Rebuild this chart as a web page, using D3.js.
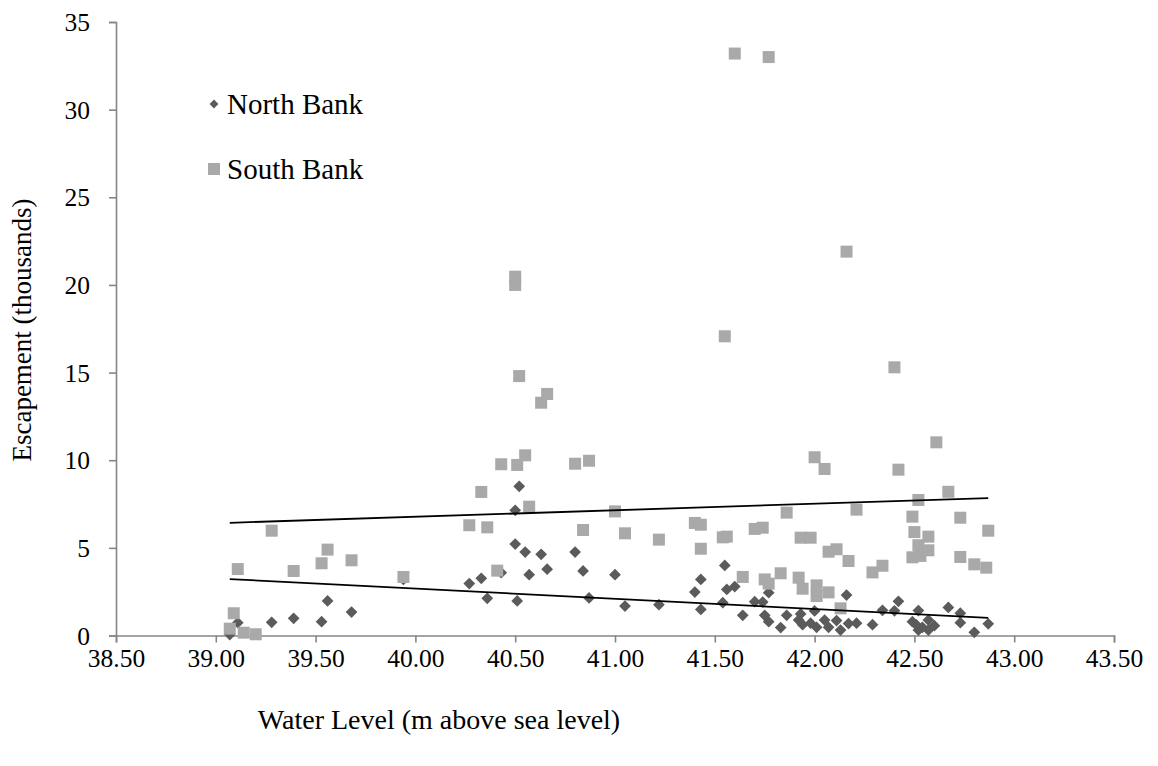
<!DOCTYPE html>
<html>
<head>
<meta charset="utf-8">
<script src="https://cdn.jsdelivr.net/npm/d3@7"></script>
<style>
  html, body { margin: 0; padding: 0; background: #fff; }
  svg { display: block; font-family: "Liberation Serif", "Times New Roman", serif; }
</style>
</head>
<body>
<svg id="chart" width="1158" height="766"></svg>
<script>
// Escapement vs. water level, north and south bank counts
const northX = [39.07, 39.11, 39.28, 39.39, 39.53, 39.56, 39.68, 39.94, 40.27, 40.33,
  40.36, 40.43, 40.50, 40.50, 40.51, 40.52, 40.55, 40.57, 40.63, 40.66,
  40.80, 40.84, 40.87, 41.00, 41.05, 41.22, 41.40, 41.43, 41.43, 41.54,
  41.55, 41.56, 41.60, 41.64, 41.70, 41.74, 41.75, 41.77, 41.77, 41.83,
  41.86, 41.92, 41.93, 41.94, 41.98, 42.00, 42.01, 42.05, 42.07, 42.11,
  42.13, 42.16, 42.17, 42.21, 42.29, 42.34, 42.40, 42.42, 42.49, 42.51,
  42.52, 42.52, 42.54, 42.57, 42.57, 42.60, 42.67, 42.73, 42.73, 42.80, 42.87];
const northY = [0.05, 0.73, 0.75, 0.98, 0.79, 1.97, 1.34, 3.20, 2.96, 3.26,
  2.12, 3.58, 7.14, 5.22, 1.97, 8.51, 4.76, 3.47, 4.63, 3.78,
  4.76, 3.68, 2.14, 3.47, 1.68, 1.76, 2.48, 3.20, 1.49, 1.87,
  4.00, 2.63, 2.79, 1.15, 1.93, 1.91, 1.15, 2.44, 0.79, 0.45,
  1.15, 0.88, 1.23, 0.62, 0.70, 1.40, 0.47, 0.88, 0.47, 0.85,
  0.31, 2.31, 0.68, 0.70, 0.62, 1.44, 1.41, 1.95, 0.79, 0.60,
  1.42, 0.31, 0.47, 0.88, 0.31, 0.56, 1.60, 1.27, 0.73, 0.18, 0.67];

const southX = [39.07, 39.09, 39.11, 39.14, 39.20, 39.28, 39.39, 39.53, 39.56, 39.68,
  39.94, 40.27, 40.33, 40.36, 40.41, 40.43, 40.50, 40.50, 40.51, 40.52,
  40.55, 40.57, 40.63, 40.66, 40.80, 40.84, 40.87, 41.00, 41.05, 41.22,
  41.40, 41.43, 41.43, 41.55, 41.54, 41.56, 41.60, 41.64, 41.70, 41.74,
  41.75, 41.77, 41.77, 41.83, 41.86, 41.92, 41.93, 41.94, 41.98, 42.00,
  42.01, 42.01, 42.05, 42.07, 42.07, 42.11, 42.13, 42.16, 42.17, 42.21,
  42.29, 42.34, 42.40, 42.42, 42.49, 42.49, 42.50, 42.52, 42.52, 42.53,
  42.57, 42.57, 42.61, 42.67, 42.73, 42.73, 42.80, 42.86, 42.87];
const southY = [0.39, 1.27, 3.79, 0.16, 0.07, 5.98, 3.68, 4.12, 4.90, 4.29,
  3.34, 6.29, 8.19, 6.17, 3.70, 9.77, 20.47, 20.00, 9.73, 14.80,
  10.28, 7.35, 13.28, 13.78, 9.80, 6.02, 9.97, 7.08, 5.83, 5.47,
  6.42, 6.32, 4.95, 17.07, 5.60, 5.64, 33.20, 3.34, 6.08, 6.15,
  3.20, 2.96, 33.00, 3.55, 7.01, 3.30, 5.58, 2.67, 5.58, 10.17,
  2.86, 2.25, 9.50, 4.78, 2.46, 4.92, 1.55, 21.90, 4.25, 7.18,
  3.60, 3.98, 15.30, 9.46, 6.78, 4.46, 5.90, 7.73, 5.15, 4.54,
  5.64, 4.86, 11.02, 8.20, 6.72, 4.48, 4.06, 3.87, 5.98];

// Linear trend lines (end points over the observed range)
const trendX = [39.07, 42.87];
const northTrend = [3.22, 1.00];
const southTrend = [6.43, 7.84];

const xTicks = [38.5, 39.0, 39.5, 40.0, 40.5, 41.0, 41.5, 42.0, 42.5, 43.0, 43.5];
const yTicks = [0, 5, 10, 15, 20, 25, 30, 35];
const seriesNames = ["North Bank", "South Bank"];

const svg = d3.select("#chart");
const plot = { left: 116, right: 1114, top: 22, bottom: 635.5 };
const axisColor = "#868686";
const northColor = "#5b5b5b";
const southColor = "#a9a9a9";

const x = d3.scaleLinear().domain([38.5, 43.5]).range([plot.left, plot.right]);
const y = d3.scaleLinear().domain([0, 35]).range([plot.bottom, plot.top]);

// Axes
const xAxis = svg.append("g")
  .attr("transform", `translate(0,${plot.bottom})`)
  .call(d3.axisBottom(x).tickValues(xTicks).tickFormat(d3.format(".2f")).tickSize(7).tickPadding(6));
const yAxis = svg.append("g")
  .attr("transform", `translate(${plot.left},0)`)
  .call(d3.axisLeft(y).tickValues(yTicks).tickSize(7).tickPadding(19));

[xAxis, yAxis].forEach(g => {
  g.select(".domain").attr("stroke", axisColor).attr("stroke-width", 1.6);
  g.selectAll(".tick line").attr("stroke", axisColor).attr("stroke-width", 1.6);
  g.selectAll(".tick text")
    .attr("fill", "#000")
    .style("font-family", "'Liberation Serif', 'Times New Roman', serif")
    .style("font-size", "25.5px");
});
yAxis.selectAll(".tick text").attr("dy", "0.34em");

// Axis titles
svg.append("text")
  .attr("x", 439).attr("y", 729)
  .attr("text-anchor", "middle")
  .style("font-size", "28px")
  .text("Water Level (m above sea level)");
svg.append("text")
  .attr("transform", "translate(31,330) rotate(-90)")
  .attr("text-anchor", "middle")
  .style("font-size", "27px")
  .text("Escapement (thousands)");

// Markers
const diamond = d3.symbol().type(d3.symbolDiamond2).size(88);
const north = northX.map((v, i) => ({ x: v, y: northY[i] }));
const south = southX.map((v, i) => ({ x: v, y: southY[i] }));

svg.append("g").selectAll("path")
  .data(north).join("path")
  .attr("d", diamond)
  .attr("transform", d => `translate(${x(d.x)},${y(d.y)})`)
  .attr("fill", northColor);

const sq = 12;
svg.append("g").selectAll("rect")
  .data(south).join("rect")
  .attr("x", d => x(d.x) - sq / 2)
  .attr("y", d => y(d.y) - sq / 2)
  .attr("width", sq).attr("height", sq)
  .attr("fill", southColor);

// Trend lines
const line = d3.line().x(d => x(d[0])).y(d => y(d[1]));
[northTrend, southTrend].forEach(t => {
  svg.append("path")
    .datum(trendX.map((v, i) => [v, t[i]]))
    .attr("d", line)
    .attr("fill", "none")
    .attr("stroke", "#000")
    .attr("stroke-width", 1.8);
});

// Legend
const legend = svg.append("g");
const legendY = [104, 169];
legend.append("path")
  .attr("d", d3.symbol().type(d3.symbolDiamond2).size(50))
  .attr("transform", `translate(214,${legendY[0]})`)
  .attr("fill", northColor);
legend.append("rect")
  .attr("x", 208).attr("y", legendY[1] - 6)
  .attr("width", 12).attr("height", 12)
  .attr("fill", southColor);
seriesNames.forEach((name, i) => {
  legend.append("text")
    .attr("x", 227).attr("y", legendY[i] + 10)
    .style("font-size", "29px")
    .text(name);
});
</script>
</body>
</html>
